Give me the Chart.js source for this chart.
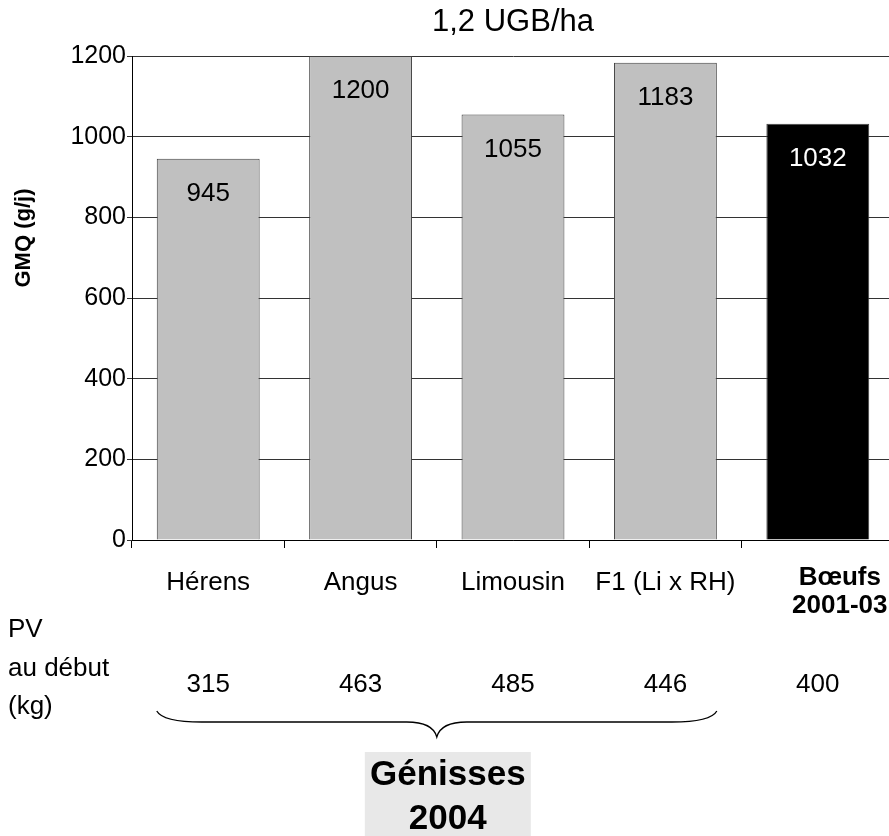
<!DOCTYPE html>
<html>
<head>
<meta charset="utf-8">
<script src="https://cdn.jsdelivr.net/npm/chart.js@4.4.1/dist/chart.umd.min.js"></script>
<style>
  html, body { margin: 0; padding: 0; background: #fff; overflow: hidden; }
  #wrap { width: 894px; height: 836px; }
</style>
</head>
<body>
<div id="wrap"><canvas id="gmqChart" width="894" height="836"></canvas></div>
<script>
var categories = ['Hérens', 'Angus', 'Limousin', 'F1 (Li x RH)', ['Bœufs', '2001-03']];
var gmqValues = [945, 1200, 1055, 1183, 1032];
var pvValues = [315, 463, 485, 446, 400];
var barColors = ['#c0c0c0', '#c0c0c0', '#c0c0c0', '#c0c0c0', '#000000'];
var yTicks = [0, 200, 400, 600, 800, 1000, 1200];

var FONT = "'Liberation Sans', Arial, sans-serif";

var extras = {
  id: 'extras',
  afterDatasetsDraw: function (chart) {
    var ctx = chart.ctx;
    var meta = chart.getDatasetMeta(0);
    ctx.save();
    ctx.font = '26px ' + FONT;
    ctx.textAlign = 'center';
    ctx.textBaseline = 'middle';
    meta.data.forEach(function (bar, i) {
      ctx.fillStyle = i === 4 ? '#fff' : '#000';
      ctx.fillText(String(gmqValues[i]), bar.x, bar.y + 35);
    });
    ctx.restore();
  },
  afterDraw: function (chart) {
    var ctx = chart.ctx;
    var meta = chart.getDatasetMeta(0);
    var xs = chart.scales.x;
    ctx.save();

    // y axis title
    ctx.translate(24, 238);
    ctx.rotate(-Math.PI / 2);
    ctx.font = 'bold 22px ' + FONT;
    ctx.fillStyle = '#000';
    ctx.textAlign = 'center';
    ctx.textBaseline = 'middle';
    ctx.fillText('GMQ (g/j)', 0, 0);
    ctx.setTransform(1, 0, 0, 1, 0, 0);

    // the steers label sits a bit right of its bar, in bold
    var steers = categories[4];
    ctx.font = 'bold 26px ' + FONT;
    ctx.fillText(steers[0], xs.getPixelForValue(4) + 22, 578);
    ctx.fillText(steers[1], xs.getPixelForValue(4) + 22, 606);

    // PV au début
    ctx.font = '26px ' + FONT;
    ctx.textAlign = 'left';
    ctx.fillText('PV', 8, 630);
    ctx.fillText('au début', 8, 669);
    ctx.fillText('(kg)', 8, 707);

    ctx.textAlign = 'center';
    pvValues.forEach(function (v, i) {
      ctx.fillText(String(v), xs.getPixelForValue(i), 685);
    });

    // brace under the four heifer groups
    var b0 = meta.data[0], b3 = meta.data[3];
    var x1 = b0.x - b0.width / 2, x2 = b3.x + b3.width / 2;
    var mid = (x1 + x2) / 2;
    var yTop = 711, yMid = 722, yTip = 737;
    ctx.strokeStyle = '#000';
    ctx.lineWidth = 1.3;
    ctx.beginPath();
    ctx.moveTo(x1, yTop);
    ctx.quadraticCurveTo(x1 + 6, yMid, x1 + 45, yMid);
    ctx.lineTo(mid - 30, yMid);
    ctx.quadraticCurveTo(mid - 4, yMid, mid, yTip);
    ctx.quadraticCurveTo(mid + 4, yMid, mid + 30, yMid);
    ctx.lineTo(x2 - 45, yMid);
    ctx.quadraticCurveTo(x2 - 6, yMid, x2, yTop);
    ctx.stroke();

    // Génisses 2004 box
    var bx = mid + 11;
    ctx.fillStyle = '#e8e8e8';
    ctx.fillRect(bx - 83, 752, 166, 84);
    ctx.fillStyle = '#000';
    ctx.font = 'bold 35px ' + FONT;
    ctx.fillText('Génisses', bx, 775);
    ctx.fillText('2004', bx, 819);
    ctx.restore();
  }
};

var ctx = document.getElementById('gmqChart').getContext('2d');
var gmqChart = new Chart(ctx, {
  type: 'bar',
  data: {
    labels: categories,
    datasets: [
      {
        data: gmqValues,
        backgroundColor: barColors,
        borderColor: '#404040',
        borderWidth: 1,
        borderSkipped: 'bottom',
        barPercentage: 0.675,
        categoryPercentage: 1,
      },
    ],
  },
  options: {
    responsive: false,
    animation: false,
    layout: { padding: 0 },
    plugins: {
      legend: { display: false },
      tooltip: { enabled: false },
      title: {
        display: true,
        text: '1,2 UGB/ha',
        fullSize: false,
        color: '#000',
        font: { family: FONT, size: 31, weight: 'normal', lineHeight: 1.2 },
        padding: { top: 3.4, bottom: 15.4 },
      },
    },
    scales: {
      x: {
        afterFit: function (scale) { scale.height = 296; },
        grid: {
          display: true,
          drawOnChartArea: false,
          drawTicks: true,
          tickLength: 8,
          color: '#000',
        },
        border: { display: true, color: '#000', width: 1 },
        ticks: {
          color: '#000',
          padding: 19,
          maxRotation: 0,
          autoSkip: false,
          font: { family: FONT, size: 26, weight: 'normal', lineHeight: 1.2 },
          callback: function (v, i) { return i === 4 ? '' : categories[i]; },
        },
      },
      y: {
        min: 0,
        max: 1200,
        afterFit: function (scale) { scale.width = 132; },
        afterBuildTicks: function (scale) {
          scale.ticks = yTicks.map(function (v) { return { value: v }; });
        },
        grid: { color: '#333', lineWidth: 1, tickLength: 5 },
        border: { display: true, color: '#000', width: 1 },
        ticks: {
          color: '#000',
          padding: 1,
          font: { family: FONT, size: 25 },
          callback: function (v) { return String(v); },
        },
      },
    },
  },
  plugins: [extras],
});
</script>
</body>
</html>
